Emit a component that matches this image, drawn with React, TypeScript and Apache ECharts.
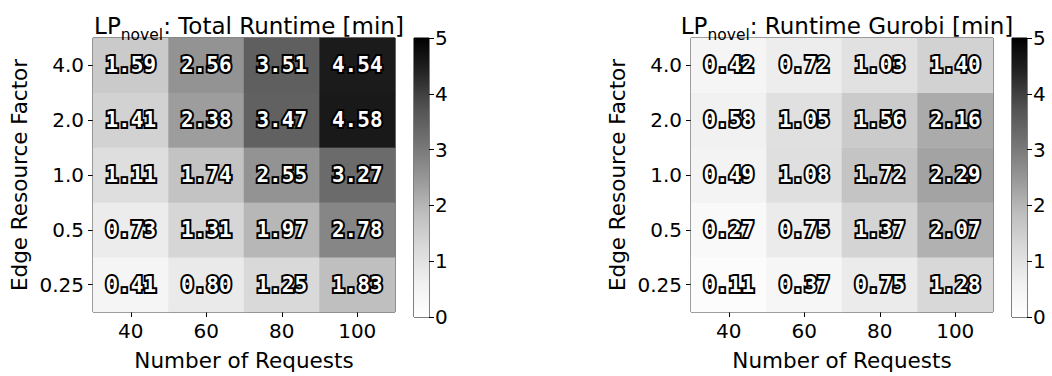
import React, { useEffect, useRef } from "react";
import * as echarts from "echarts";

const requests = ["40", "60", "80", "100"];
const factors = ["0.25", "0.5", "1.0", "2.0", "4.0"];

// rows: factor (bottom to top), columns: requests
const totalRuntime = [
  [0.41, 0.8, 1.25, 1.83],
  [0.73, 1.31, 1.97, 2.78],
  [1.11, 1.74, 2.55, 3.27],
  [1.41, 2.38, 3.47, 4.58],
  [1.59, 2.56, 3.51, 4.54],
];
const gurobiRuntime = [
  [0.11, 0.37, 0.75, 1.28],
  [0.27, 0.75, 1.37, 2.07],
  [0.49, 1.08, 1.72, 2.29],
  [0.58, 1.05, 1.56, 2.16],
  [0.42, 0.72, 1.03, 1.4],
];
const colorbarTicks = [0, 1, 2, 3, 4, 5];
const titles = ["Total Runtime [min]", "Runtime Gurobi [min]"];

const greys = ["#ffffff", "#f0f0f0", "#d9d9d9", "#bdbdbd", "#969696", "#737373", "#525252", "#252525", "#000000"];

const FONT = "DejaVu Sans";
const FS = 20;
const NAME_FS = 21.5;

function toCells(m: number[][]) {
  const out: [number, number, number][] = [];
  m.forEach((row, yi) => row.forEach((v, xi) => out.push([xi, yi, v])));
  return out;
}

export default function App() {
  const ref = useRef<HTMLDivElement>(null);
  useEffect(() => {
    if (!ref.current) return;
    const chart = echarts.init(ref.current, null, { renderer: "svg" });
    const boxes = [
      { left: 93, width: 302, cb: 414 },
      { left: 691, width: 302, cb: 1012 },
    ];
    const top = 38;
    const height = 279;
    const grids: any[] = [];
    const xAxes: any[] = [];
    const yAxes: any[] = [];
    const series: any[] = [];
    const visualMaps: any[] = [];
    const titleArr: any[] = [];
    const data = [totalRuntime, gurobiRuntime];
    // gradient from top (black) to bottom (white), ascending offsets
    const gradStops = greys
      .slice()
      .reverse()
      .map((c, i) => ({ offset: i / (greys.length - 1), color: c }));

    boxes.forEach((b, i) => {
      const gi = grids.length;
      grids.push({
        left: b.left, top, width: b.width, height,
        show: true, borderColor: "#000", borderWidth: 1, backgroundColor: "transparent",
      });
      xAxes.push({
        type: "category", gridIndex: gi, data: requests,
        name: "Number of Requests", nameLocation: "middle", nameGap: 37,
        nameTextStyle: { fontFamily: FONT, fontSize: NAME_FS, color: "#000" },
        axisLine: { show: false },
        axisTick: { show: true, alignWithLabel: true, length: 5, lineStyle: { color: "#000" } },
        axisLabel: { fontFamily: FONT, fontSize: FS, color: "#000", margin: 9 },
        splitLine: { show: false },
      });
      yAxes.push({
        type: "category", gridIndex: gi, data: factors,
        name: "Edge Resource Factor", nameLocation: "middle", nameGap: 63,
        nameTextStyle: { fontFamily: FONT, fontSize: NAME_FS, color: "#000" },
        axisLine: { show: false },
        axisTick: { show: true, alignWithLabel: true, length: 5, lineStyle: { color: "#000" } },
        axisLabel: { fontFamily: FONT, fontSize: FS, color: "#000", margin: 9 },
        splitLine: { show: false },
      });
      const si = series.length;
      series.push({
        type: "heatmap", xAxisIndex: gi, yAxisIndex: gi,
        data: toCells(data[i]),
        label: {
          show: true,
          formatter: (p: any) => p.value[2].toFixed(2),
          fontFamily: "DejaVu Sans Mono", fontWeight: "bold", fontSize: 21,
          color: "#fff", textBorderColor: "#000", textBorderWidth: 4,
        },
        itemStyle: { borderWidth: 0 },
      });
      visualMaps.push({
        show: false, type: "continuous", min: 0, max: 5, seriesIndex: si,
        inRange: { color: greys },
      });
      // colorbar
      const ci = grids.length;
      grids.push({
        left: b.cb, top, width: 15, height,
        show: true, borderColor: "#000", borderWidth: 1, backgroundColor: "transparent",
      });
      xAxes.push({
        type: "category", gridIndex: ci, data: [""], show: false,
      });
      yAxes.push({
        type: "value", gridIndex: ci, min: 0, max: 5, interval: 1, position: "right",
        axisLine: { show: false },
        axisTick: { show: true, length: 5, lineStyle: { color: "#000" } },
        axisLabel: { fontFamily: FONT, fontSize: FS, color: "#000", margin: 6,
          formatter: (v: number) => (colorbarTicks.includes(v) ? String(v) : "") },
        splitLine: { show: false },
      });
      series.push({
        type: "bar", xAxisIndex: ci, yAxisIndex: ci, data: [5], barWidth: "100%",
        silent: true,
        itemStyle: { color: new echarts.graphic.LinearGradient(0, 0, 0, 1, gradStops) },
      });
      titleArr.push({
        text: `{a|LP}{s|novel}{a|: ${titles[i]}}`,
        left: b.left + b.width / 2, textAlign: "center", top: 2,
        textStyle: {
          fontWeight: "normal",
          rich: {
            a: { fontFamily: FONT, fontSize: 23, fontWeight: "normal", color: "#000", verticalAlign: "bottom", lineHeight: 30 },
            s: { fontFamily: FONT, fontSize: 15.5, fontWeight: "normal", color: "#000", verticalAlign: "bottom", lineHeight: 30, padding: [0, 0, -6, 0] },
          },
        },
      });
    });

    chart.setOption({
      animation: false,
      backgroundColor: "#fff",
      title: titleArr,
      grid: grids,
      xAxis: xAxes,
      yAxis: yAxes,
      visualMap: visualMaps,
      series,
    });
    return () => chart.dispose();
  }, []);
  return (
    <div
      ref={ref}
      style={{ position: "fixed", left: 0, top: 0, width: 1052, height: 376 }}
    />
  );
}
